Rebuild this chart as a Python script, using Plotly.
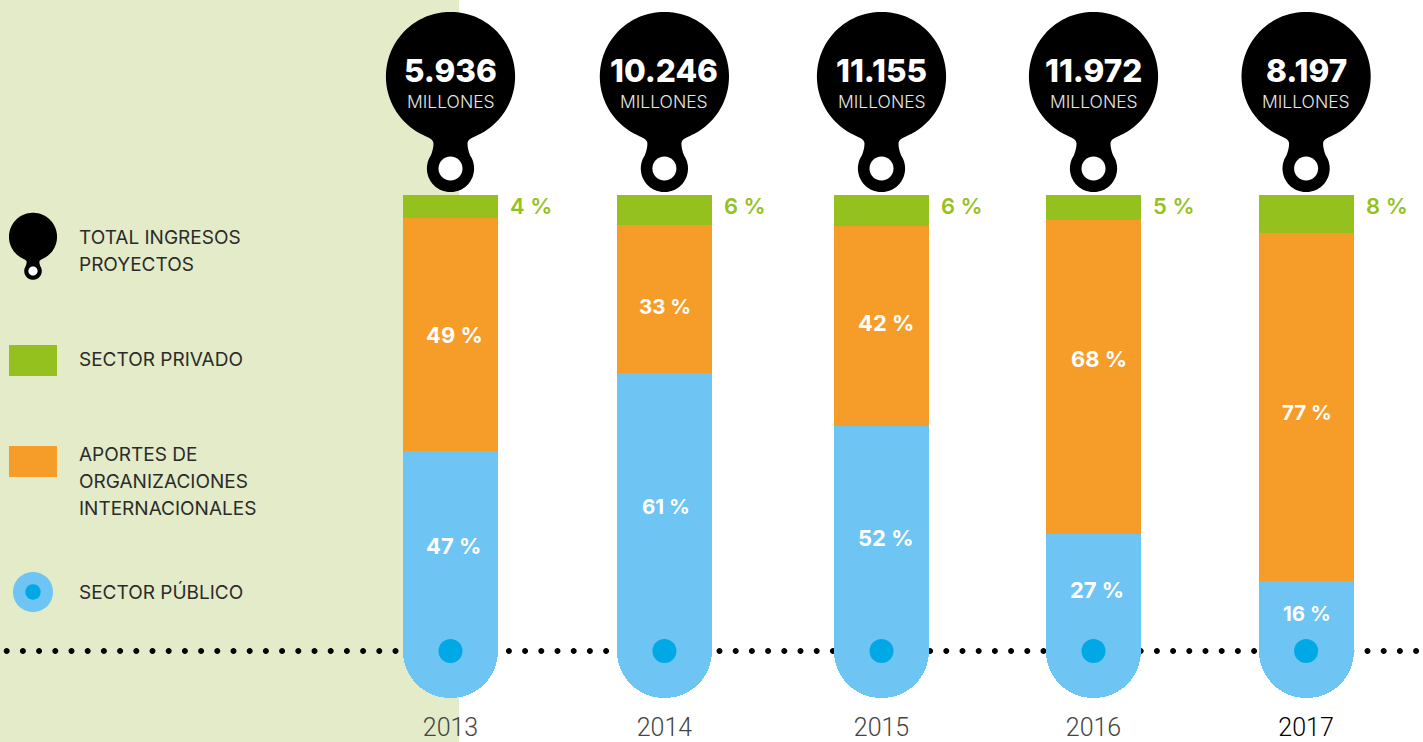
import numpy as np
import plotly.graph_objects as go

# ---- data ----
years = ["2013", "2014", "2015", "2016", "2017"]
totals = ["5.936", "10.246", "11.155", "11.972", "8.197"]
private_labels = ["4 %", "6 %", "6 %", "5 %", "8 %"]
intl_labels = ["49 %", "33 %", "42 %", "68 %", "77 %"]
public_labels = ["47 %", "61 %", "52 %", "27 %", "16 %"]
# drawn segment heights (share of the bar's full length)
private_heights = [4.6, 6.0, 6.2, 5.0, 7.6]
intl_heights = [46.3, 29.4, 39.8, 62.4, 69.2]
public_heights = [49.1, 64.6, 54.0, 32.6, 23.2]
legend_items = [
    (["TOTAL INGRESOS", "PROYECTOS"], [237.5, 264.5]),
    (["SECTOR PRIVADO"], [359.5]),
    (["APORTES DE", "ORGANIZACIONES", "INTERNACIONALES"], [454.5, 481.5, 508.5]),
    (["SECTOR PÚBLICO"], [591.5]),
]

# ---- layout geometry ----
W, H = 1423, 742
MB = 32                      # room below the plot for the year ticks
YEAR_PX = 213.9              # horizontal scale
FIRST_PX = 450.5             # centre of first column
NUDGE_PX = np.array([0, 0, 3.2, 1.3, 0.0])
Y0_PX, Y_SCALE = 195, 5.03   # bar top, px per unit
DOT_PX = 651
BAR_W_PX = 95
# label placement tweaks, px
INTL_DX, INTL_DY = [4, 1, 4, 5, 1], [0, 7, -3, -18, 5]
PUB_DX, PUB_DY = [3, 2, 4, 3, 1], [-5, -6, -1, -3, -3]
LABEL_SIZE = [22, 20.5, 22, 22, 20.5]

GREEN, ORANGE, BLUE, DEEP = "#95C11F", "#F69D29", "#6EC4F2", "#00A9E6"
PANEL = "#E4EBC8"
TEXT = "#2B2B2B"
SANS = "Inter"

x_pos = np.arange(len(years)) + NUDGE_PX / YEAR_PX
x_range = [(0 - FIRST_PX) / YEAR_PX, (W - FIRST_PX) / YEAR_PX]
y_range = [(H - MB - Y0_PX) / Y_SCALE, (0 - Y0_PX) / Y_SCALE]
dot_y = (DOT_PX - Y0_PX) / Y_SCALE
pin_y = (76.5 - Y0_PX) / Y_SCALE


def arc(cx, cy, r, a0, a1, n=48):
    t = np.radians(np.linspace(a0, a1, n))
    return [(cx + r * np.cos(v), cy + r * np.sin(v)) for v in t]


def pin_path(s=1.0):
    # y grows downward in the helper, flipped on output (pixel mode is y-up)
    jr = np.degrees(np.arctan2(59.5, 25.5))
    big = arc(0, 0, 64.6, jr, jr - 360 + 2 * (90 - jr), 140)
    ring = arc(0, 92.0, 23.6, 214, -34, 96)
    f = lambda a, b: f"{a * s:.2f},{-b * s:.2f}"
    d = "M" + f(*big[0]) + " "
    d += " ".join("L" + f(a, b) for a, b in big[1:])
    d += f" C{f(-21, 61.5)} {f(-17, 63)} {f(-17, 67)}"
    d += f" C{f(-17, 71)} {f(-18, 74.5)} {f(*ring[0])} "
    d += " ".join("L" + f(a, b) for a, b in ring[1:])
    d += f" C{f(18, 74.5)} {f(17, 71)} {f(17, 67)}"
    d += f" C{f(17, 63)} {f(21, 61.5)} {f(*big[0])} Z"
    return d


def circle_path(cx, cy, r):
    k = 0.5523 * r
    return (f"M{cx - r:.2f},{-cy:.2f} "
            f"C{cx - r:.2f},{-cy + k:.2f} {cx - k:.2f},{-cy + r:.2f} {cx:.2f},{-cy + r:.2f} "
            f"C{cx + k:.2f},{-cy + r:.2f} {cx + r:.2f},{-cy + k:.2f} {cx + r:.2f},{-cy:.2f} "
            f"C{cx + r:.2f},{-cy - k:.2f} {cx + k:.2f},{-cy - r:.2f} {cx:.2f},{-cy - r:.2f} "
            f"C{cx - k:.2f},{-cy - r:.2f} {cx - r:.2f},{-cy - k:.2f} {cx - r:.2f},{-cy:.2f} Z")


fig = go.Figure()
common = dict(x=x_pos, width=BAR_W_PX / YEAR_PX, marker_line_width=0, hoverinfo="skip", showlegend=False)
fig.add_bar(name="Sector privado", y=private_heights, marker_color=GREEN, **common)
fig.add_bar(name="Aportes de organizaciones internacionales", y=intl_heights, marker_color=ORANGE, **common)
fig.add_bar(name="Sector público", y=public_heights, marker_color=BLUE, **common)
fig.add_scatter(x=x_pos, y=[dot_y] * len(years), mode="markers", marker=dict(color=DEEP, size=24, line_width=0),
                hoverinfo="skip", showlegend=False)

shapes = [
    dict(type="rect", xref="paper", yref="paper", x0=0, x1=459 / W, y0=-MB / (H - MB), y1=1,
         fillcolor=PANEL, line_width=0, layer="below"),
]
# dotted baseline (behind the bars)
dots = " ".join(circle_path(x, 0, 3) for x in np.arange(6.7, 1420, 16.2))
shapes.append(dict(type="path", xsizemode="pixel", ysizemode="pixel", xref="paper", yref="y",
                   xanchor=0, yanchor=dot_y, path=dots, fillcolor="#000000", line_width=0, layer="below"))
# pins above the columns
for x in x_pos:
    shapes.append(dict(type="path", xsizemode="pixel", ysizemode="pixel", xref="x", yref="y",
                       xanchor=x, yanchor=pin_y, path=pin_path(), fillcolor="#000000", line_width=0))
    shapes.append(dict(type="path", xsizemode="pixel", ysizemode="pixel", xref="x", yref="y",
                       xanchor=x, yanchor=pin_y, path=circle_path(0, 92, 12), fillcolor="#FFFFFF", line_width=0))
# legend swatches
lg = lambda px: px / W
lgy = lambda py: 1 - py / (H - MB)
shapes.append(dict(type="path", xsizemode="pixel", ysizemode="pixel", xref="paper", yref="paper",
                   xanchor=lg(33), yanchor=lgy(236.8), path=pin_path(0.372), fillcolor="#000000", line_width=0))
shapes.append(dict(type="path", xsizemode="pixel", ysizemode="pixel", xref="paper", yref="paper",
                   xanchor=lg(33), yanchor=lgy(236.8), path=circle_path(0, 92 * 0.372, 4.6), fillcolor="#FFFFFF", line_width=0))
shapes.append(dict(type="rect", xref="paper", yref="paper", x0=lg(9), x1=lg(57), y0=lgy(376), y1=lgy(345),
                   fillcolor=GREEN, line_width=0))
shapes.append(dict(type="rect", xref="paper", yref="paper", x0=lg(9), x1=lg(57), y0=lgy(477), y1=lgy(446),
                   fillcolor=ORANGE, line_width=0))
shapes.append(dict(type="path", xsizemode="pixel", ysizemode="pixel", xref="paper", yref="paper",
                   xanchor=lg(33), yanchor=lgy(592), path=circle_path(0, 0, 20), fillcolor=BLUE, line_width=0))
shapes.append(dict(type="path", xsizemode="pixel", ysizemode="pixel", xref="paper", yref="paper",
                   xanchor=lg(33), yanchor=lgy(592), path=circle_path(0, 0, 7.7), fillcolor=DEEP, line_width=0))

ann = []


def label(x, y, text, size, color, weight=400, xshift=0, yshift=0, xanchor="center", xref="x", yref="y"):
    ann.append(dict(x=x, y=y, text=text, xref=xref, yref=yref, xanchor=xanchor, yanchor="middle", showarrow=False,
                    xshift=xshift, yshift=yshift, font=dict(family=SANS, size=size, color=color, weight=weight)))


ph, oh, bh = map(np.array, (private_heights, intl_heights, public_heights))
for i, x in enumerate(x_pos):
    label(x, (70.5 - Y0_PX) / Y_SCALE, totals[i], 31.5, "#FFFFFF", 800)
    label(x, (101.5 - Y0_PX) / Y_SCALE, "MILLONES", 17.5, "#E6E6E6", 300)
    label(x, (206 - Y0_PX) / Y_SCALE, private_labels[i], 22, GREEN, 600, xshift=57.5, xanchor="left")
    label(x, ph[i] + oh[i] / 2, intl_labels[i], LABEL_SIZE[i], "#FFFFFF", 700, xshift=INTL_DX[i], yshift=-INTL_DY[i])
    label(x, (ph[i] + oh[i] + dot_y) / 2, public_labels[i], LABEL_SIZE[i], "#FFFFFF", 700, xshift=PUB_DX[i], yshift=-PUB_DY[i])

for lines, ys in legend_items:
    for line, py in zip(lines, ys):
        label(77 / W, lgy(py), line, 19, TEXT, 400, xanchor="left", xref="paper", yref="paper")

fig.update_layout(
    width=W, height=H, margin=dict(l=0, r=0, t=0, b=MB, pad=0),
    barmode="stack", bargap=0, barcornerradius=47.5,
    paper_bgcolor="#FFFFFF", plot_bgcolor="rgba(0,0,0,0)",
    shapes=shapes, annotations=ann,
    xaxis=dict(range=x_range, tickmode="array", tickvals=x_pos,
               ticktext=years[:-1] + [f'<span style="color:#000000">{years[-1]}</span>'],
               showgrid=False, zeroline=False, showline=False, ticks="", automargin=False,
               tickfont=dict(family="Roboto", size=25, color="#444444", weight=300)),
    yaxis=dict(range=y_range, visible=False, showgrid=False, zeroline=False),
)

fig.write_html("out.html", config={"displayModeBar": False},
               post_script="document.body.style.margin='0';document.body.style.overflow='hidden';")
